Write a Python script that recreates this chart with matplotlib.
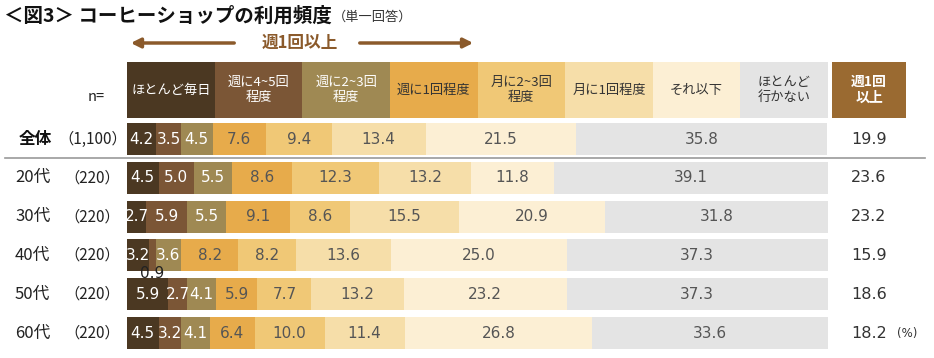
import numpy as np
import matplotlib.pyplot as plt
from matplotlib.patches import FancyArrowPatch

plt.rcParams['font.family'] = ['Noto Sans CJK JP', 'DejaVu Sans']

''' Data '''
categories = ['ほとんど毎日', '週に4~5回\n程度', '週に2~3回\n程度', '週に1回程度',
              '月に2~3回\n程度', '月に1回程度', 'それ以下', 'ほとんど\n行かない']
groups = ['全体', '20代', '30代', '40代', '50代', '60代']
group_n = ['（1,100）', '（220）', '（220）', '（220）', '（220）', '（220）']
row_all = [4.2, 3.5, 4.5, 7.6, 9.4, 13.4, 21.5, 35.8]
row_20s = [4.5, 5.0, 5.5, 8.6, 12.3, 13.2, 11.8, 39.1]
row_30s = [2.7, 5.9, 5.5, 9.1, 8.6, 15.5, 20.9, 31.8]
row_40s = [3.2, 0.9, 3.6, 8.2, 8.2, 13.6, 25.0, 37.3]
row_50s = [5.9, 2.7, 4.1, 5.9, 7.7, 13.2, 23.2, 37.3]
row_60s = [4.5, 3.2, 4.1, 6.4, 10.0, 11.4, 26.8, 33.6]
weekly_plus = [19.9, 23.6, 23.2, 15.9, 18.6, 18.2]

colors = ['#4b3822', '#7b5636', '#9f8953', '#e7ab4b', '#f0c876',
          '#f6dea9', '#fcefd4', '#e4e4e4']
text_colors = ['white', 'white', 'white', '#555555', '#555555',
               '#555555', '#555555', '#555555']

''' Figure (pixel-based layout) '''
W, H = 934, 358
fig = plt.figure(figsize=(W / 100, H / 100), dpi=100)
# bar axes: x in percent, y in pixels from top
ax = fig.add_axes([127 / W, 0, 701 / W, 1])
ax.set_xlim(0, 100)
ax.set_ylim(H, 0)
ax.axis('off')

def fx(px):
    return px / W

def fy(py):
    return 1 - py / H

rows = [row_all, row_20s, row_30s, row_40s, row_50s, row_60s]
row_y = 139 + np.arange(len(rows)) * 38.8
bar_h = 32

# bars
for i, vals in enumerate(rows):
    left = 0
    for j, v in enumerate(vals):
        ax.barh(row_y[i], v, left=left, height=bar_h, color=colors[j], linewidth=0)
        if v >= 1.5:
            ax.text(left + v / 2, row_y[i], f'{v:.1f}', ha='center', va='center',
                    fontsize=11, color=text_colors[j], family='DejaVu Sans')
        else:
            ax.text(left + v / 2, row_y[i] + bar_h / 2 + 2, f'{v:.1f}', ha='center',
                    va='center', fontsize=11, color='#222222', family='DejaVu Sans')
        left += v

# header boxes
n_cat = len(categories)
cat_w = 100 / n_cat
for j, cat in enumerate(categories):
    ax.barh(90, cat_w, left=j * cat_w, height=56, color=colors[j], linewidth=0)
    ax.text(j * cat_w + cat_w / 2, 90, cat, ha='center', va='center', fontsize=9.5,
            color='white' if j < 3 else '#333333', linespacing=1.15)

# 週1回以上 header box (outside plot range)
ax.barh(90, 10.5, left=100.6, height=56, color='#9a6a31', linewidth=0, clip_on=False)
ax.text(100.6 + 5.25, 90, '週1回\n以上', ha='center', va='center', fontsize=10,
        color='white', fontweight='bold', linespacing=1.15, clip_on=False)

# right-hand values
for i, v in enumerate(weekly_plus):
    ax.text(105.8, row_y[i], f'{v:.1f}', ha='center', va='center', fontsize=11.5,
            color='#333333', family='DejaVu Sans', clip_on=False)
ax.text(109.8, row_y[-1] + 1, '(%)', ha='left', va='center', fontsize=8.5,
        color='#333333', family='DejaVu Sans', clip_on=False)

# left labels
for i, (g, n) in enumerate(zip(groups, group_n)):
    if i == 0:
        fig.text(fx(19), fy(row_y[i]), g, ha='left', va='center', fontsize=12,
                 fontweight='bold', color='#111111')
        fig.text(fx(58), fy(row_y[i]), n, ha='left', va='center', fontsize=11,
                 color='#222222')
    else:
        fig.text(fx(15), fy(row_y[i]), g, ha='left', va='center', fontsize=12,
                 color='#222222')
        fig.text(fx(64), fy(row_y[i]), n, ha='left', va='center', fontsize=11,
                 color='#222222')
fig.text(fx(88), fy(97), 'n=', ha='left', va='center', fontsize=10.5, color='#222222')

# separator line
fig.add_artist(plt.Line2D([fx(5), fx(925)], [fy(158), fy(158)], color='#999999',
                          linewidth=1.2))

# arrow 週1回以上
arrow_c = '#8b5a2b'
fig.add_artist(FancyArrowPatch((fx(237), fy(43)), (fx(128), fy(43)),
                               transform=fig.transFigure, arrowstyle='-|>',
                               mutation_scale=14, color=arrow_c, linewidth=2.5))
fig.add_artist(FancyArrowPatch((fx(357), fy(43)), (fx(476), fy(43)),
                               transform=fig.transFigure, arrowstyle='-|>',
                               mutation_scale=14, color=arrow_c, linewidth=2.5))
fig.text(fx(300), fy(43), '週1回以上', ha='center', va='center', fontsize=12,
         fontweight='bold', color=arrow_c)

# title
fig.text(fx(4), fy(16), '＜図3＞ コーヒーショップの利用頻度', ha='left', va='center',
         fontsize=14, fontweight='bold', color='#111111')
fig.text(fx(333), fy(17), '（単一回答）', ha='left', va='center', fontsize=9.5,
         color='#333333')

fig.savefig('out.png', dpi=100)
